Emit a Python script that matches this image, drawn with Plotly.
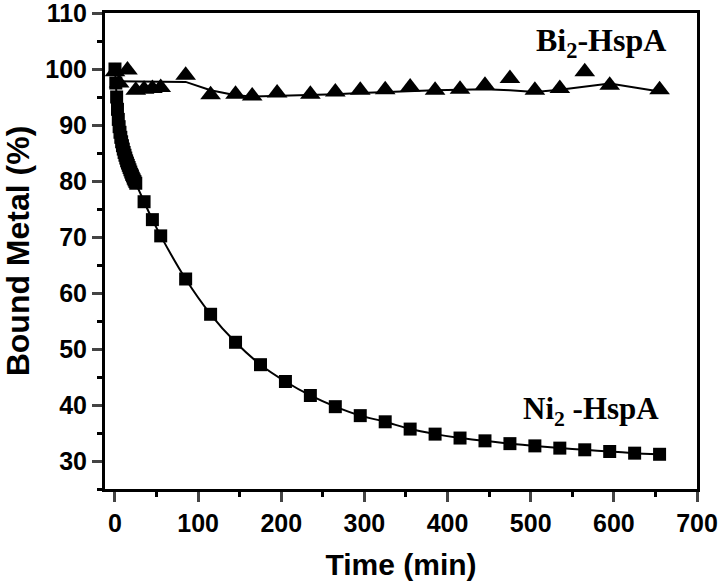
import plotly.graph_objects as go

# Ni2-HspA (squares)
ni_time = [0, 1, 2, 3, 4, 5, 6, 7, 8, 9, 10, 11, 12, 13, 14, 15, 16, 17, 18, 19, 20,
           21, 22, 23, 24, 25, 35, 45, 55, 85, 115, 145, 175, 205, 235, 265, 295, 325,
           355, 385, 415, 445, 475, 505, 535, 565, 595, 625, 655]
ni_bound = [100, 97.5, 95, 92.8, 91, 89.7, 88.7, 87.8, 87, 86.3, 85.7, 85.1, 84.6, 84.1,
            83.6, 83.2, 82.8, 82.4, 82.0, 81.6, 81.2, 80.9, 80.5, 80.2, 79.9, 79.6,
            76.3, 73.1, 70.2, 62.5, 56.2, 51.2, 47.2, 44.2, 41.7, 39.7, 38.1, 37.0,
            35.7, 34.8, 34.1, 33.6, 33.1, 32.7, 32.3, 32.0, 31.7, 31.4, 31.2]

# Bi2-HspA (triangles)
bi_time = [0, 5, 15, 25, 35, 45, 55, 85, 115, 145, 165, 195, 235, 265, 295, 325, 355,
           385, 415, 445, 475, 505, 535, 565, 595, 655]
bi_bound = [99.5, 97.5, 99.8, 96.2, 96.4, 96.5, 96.7, 98.9, 95.4, 95.5, 95.2, 95.7, 95.5,
            95.9, 96.2, 96.3, 96.8, 96.2, 96.4, 97.1, 98.3, 96.2, 96.5, 99.5, 97.1, 96.3]

# Bi2-HspA smoothed trend line
bi_line_time = [0, 85, 115, 145, 165, 195, 235, 265, 295, 325, 355, 385, 415, 445, 475,
                505, 535, 565, 595, 655]
bi_line_bound = [97.8, 97.7, 96.2, 95.3, 95.1, 95.2, 95.3, 95.5, 95.7, 95.9, 96.1, 96.2,
                 96.3, 96.4, 96.2, 95.9, 96.3, 96.9, 97.4, 96.0]

x_ticks = [0, 100, 200, 300, 400, 500, 600, 700]
y_ticks = [30, 40, 50, 60, 70, 80, 90, 100, 110]

fig = go.Figure()
fig.add_trace(go.Scatter(x=ni_time, y=ni_bound, mode="lines", line=dict(color="black", width=2, shape="spline", smoothing=0.6), showlegend=False))
fig.add_trace(go.Scatter(x=ni_time, y=ni_bound, mode="markers", marker=dict(symbol="square", size=13, color="black"), showlegend=False))
fig.add_trace(go.Scatter(x=bi_line_time, y=bi_line_bound, mode="lines", line=dict(color="black", width=2), showlegend=False))
fig.add_trace(go.Scatter(x=bi_time, y=bi_bound, mode="markers", marker=dict(symbol="triangle-up", size=18, color="black"), showlegend=False))

sans = "Liberation Sans, Arial"
serif = "Liberation Serif, Times New Roman"

fig.update_layout(
    width=720, height=586,
    margin=dict(l=105, r=23, t=13, b=97),
    plot_bgcolor="white", paper_bgcolor="white",
    xaxis=dict(range=[-12, 700], tickvals=x_ticks, ticks="outside", ticklen=10, tickwidth=2.5,
               showline=True, linewidth=3, linecolor="black", mirror=True, showgrid=False, zeroline=False,
               automargin=False, ticklabeloverflow="allow",
               tickfont=dict(family=sans, size=25, color="black", weight="bold"),
               minor=dict(dtick=50, tick0=0, ticks="outside", ticklen=5, tickwidth=2.5, tickcolor="black", showgrid=False),
               title=dict(text="Time (min)", font=dict(family=sans, size=30, color="black", weight="bold"), standoff=18)),
    yaxis=dict(range=[25, 110], tickvals=y_ticks, ticks="outside", ticklen=10, tickwidth=2.5,
               showline=True, linewidth=3, linecolor="black", mirror=True, showgrid=False, zeroline=False,
               automargin=False, ticklabeloverflow="allow",
               tickfont=dict(family=sans, size=25, color="black", weight="bold"),
               minor=dict(dtick=5, tick0=0, ticks="outside", ticklen=5, tickwidth=2.5, tickcolor="black", showgrid=False),
               title=dict(text="Bound Metal (%)", font=dict(family=sans, size=32, color="black", weight="bold"), standoff=10)),
    annotations=[
        dict(x=585, y=104.7, xref="x", yref="y", text="Bi<sub>2</sub>-HspA", showarrow=False,
             font=dict(family=serif, size=32, color="black", weight="bold")),
        dict(x=572, y=39.0, xref="x", yref="y", text="Ni<sub>2</sub> -HspA", showarrow=False,
             font=dict(family=serif, size=31, color="black", weight="bold")),
    ],
)

fig.write_html("out.html", config={"displayModeBar": False},
               post_script="document.body.style.margin='0px';document.body.style.overflow='hidden';")
